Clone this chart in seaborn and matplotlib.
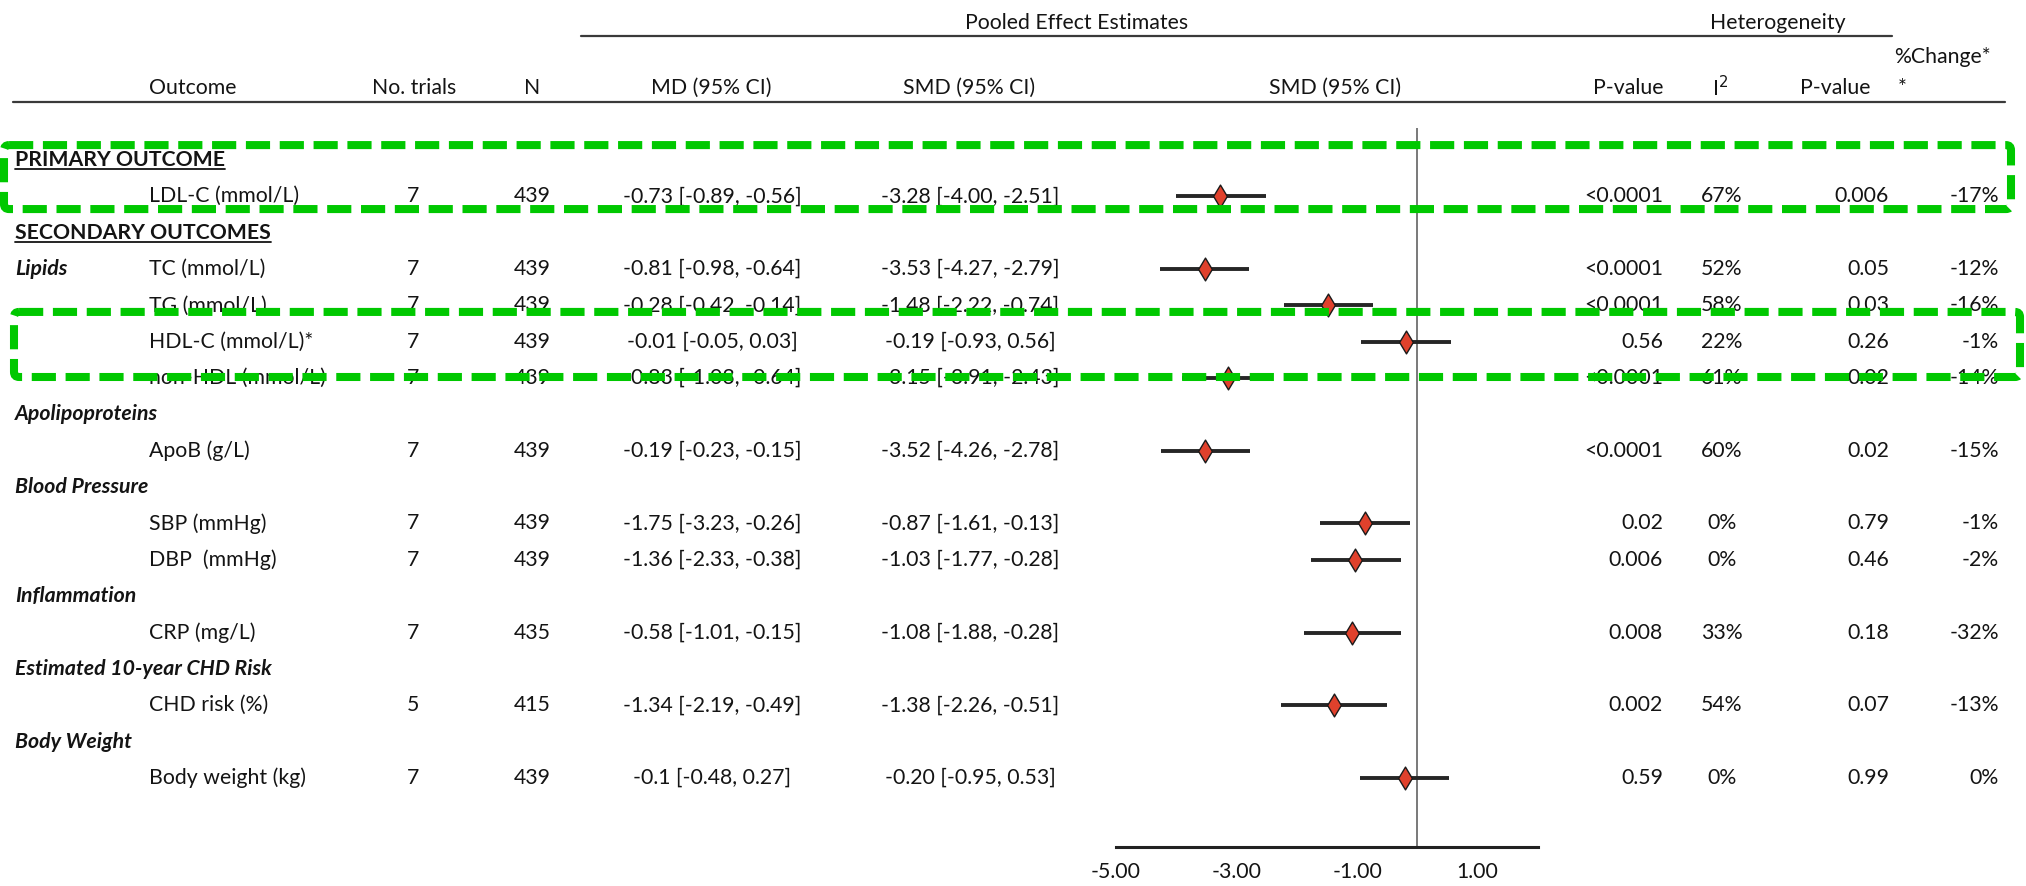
import matplotlib
matplotlib.use("Agg")
import matplotlib.pyplot as plt
import matplotlib.transforms as mtransforms
from matplotlib.patches import FancyBboxPatch
from matplotlib.lines import Line2D
import seaborn as sns
import pandas as pd

outcomes = ["LDL-C (mmol/L)", "TC (mmol/L)", "TG (mmol/L)", "HDL-C (mmol/L)*", "non-HDL (mmol/L)",
            "ApoB (g/L)", "SBP (mmHg)", "DBP  (mmHg)", "CRP (mg/L)", "CHD risk (%)", "Body weight (kg)"]
n_trials = [7, 7, 7, 7, 7, 7, 7, 7, 7, 5, 7]
n_total = [439, 439, 439, 439, 439, 439, 439, 439, 435, 415, 439]
md_ci = ["-0.73 [-0.89, -0.56]", "-0.81 [-0.98, -0.64]", "-0.28 [-0.42, -0.14]", "-0.01 [-0.05, 0.03]",
         "-0.83 [-1.03, -0.64]", "-0.19 [-0.23, -0.15]", "-1.75 [-3.23, -0.26]", "-1.36 [-2.33, -0.38]",
         "-0.58 [-1.01, -0.15]", "-1.34 [-2.19, -0.49]", "-0.1 [-0.48, 0.27]"]
smd = [-3.28, -3.53, -1.48, -0.19, -3.15, -3.52, -0.87, -1.03, -1.08, -1.38, -0.20]
smd_lo = [-4.00, -4.27, -2.22, -0.93, -3.91, -4.26, -1.61, -1.77, -1.88, -2.26, -0.95]
smd_hi = [-2.51, -2.79, -0.74, 0.56, -2.43, -2.78, -0.13, -0.28, -0.28, -0.51, 0.53]
p_effect = ["<0.0001", "<0.0001", "<0.0001", "0.56", "<0.0001", "<0.0001", "0.02", "0.006", "0.008", "0.002", "0.59"]
i2 = [67, 52, 58, 22, 61, 60, 0, 0, 33, 54, 0]
p_het = ["0.006", "0.05", "0.03", "0.26", "0.02", "0.02", "0.79", "0.46", "0.18", "0.07", "0.99"]
pct_change = [-17, -12, -16, -1, -14, -15, -1, -2, -32, -13, 0]
x_ticks = [-5, -3, -1, 1]

# table rows top to bottom
layout = [
    ("section", "PRIMARY OUTCOME"),
    ("outcome", 0),
    ("section", "SECONDARY OUTCOMES"),
    ("outcome", 1, "Lipids"),
    ("outcome", 2),
    ("outcome", 3),
    ("outcome", 4),
    ("group", "Apolipoproteins"),
    ("outcome", 5),
    ("group", "Blood Pressure"),
    ("outcome", 6),
    ("outcome", 7),
    ("group", "Inflammation"),
    ("outcome", 8),
    ("group", "Estimated 10-year CHD Risk"),
    ("outcome", 9),
    ("group", "Body Weight"),
    ("outcome", 10),
]

rows = {}
for r, item in enumerate(layout):
    if item[0] == "outcome":
        rows[item[1]] = r

df = pd.DataFrame({"outcome": outcomes, "smd": smd, "lo": smd_lo, "hi": smd_hi})
df["row"] = [rows[i] for i in range(len(outcomes))]

sns.set_theme(style="white")
plt.rcParams["font.family"] = ["Lato", "DejaVu Sans"]

W, H = 2026, 886
FS = 15.3
TXT = "#141414"
fig = plt.figure(figsize=(W / 100, H / 100), dpi=100)
ax = fig.add_axes([1116 / W, 1 - 847 / H, 422 / W, (847 - 128) / H])
ax.patch.set_alpha(0)

# forest plot
ax.axvline(0, color="#555555", lw=1.1, zorder=1)
ax.hlines(df["row"], df["lo"], df["hi"], color="#262626", lw=2.8, zorder=3)
sns.scatterplot(data=df, x="smd", y="row", marker="d", s=135, color="#e0412c",
                edgecolor="#1a1a1a", linewidth=1.0, ax=ax, zorder=4, legend=False)
ax.set_xlabel("")
ax.set_ylabel("")
ax.set_xlim(-5, 2)
ax.set_ylim(18.9, -0.88)
ax.set_yticks([])
ax.set_xticks(x_ticks)
ax.set_xticklabels([f"{t:.2f}" for t in x_ticks])
ax.tick_params(axis="x", length=0, pad=11, labelsize=FS, colors=TXT)
for s in ["left", "top", "right"]:
    ax.spines[s].set_visible(False)
ax.spines["bottom"].set_color("#222222")
ax.spines["bottom"].set_linewidth(2.2)

# text table, x in figure pixels, y in rows
tr = mtransforms.blended_transform_factory(fig.transFigure, ax.transData)


def put(x, y, s, ha="center", **kw):
    return ax.text(x / W, y, s, transform=tr, ha=ha, va="center", fontsize=FS,
                   color=TXT, clip_on=False, **kw)


sections = []
for r, item in enumerate(layout):
    if item[0] == "section":
        sections.append(put(15, r, item[1], ha="left", fontweight="bold"))
    elif item[0] == "group":
        put(15, r, item[1], ha="left", fontweight="bold", fontstyle="italic")
    else:
        i = item[1]
        if len(item) > 2:
            put(15, r, item[2], ha="left", fontweight="bold", fontstyle="italic")
        put(149, r, outcomes[i], ha="left")
        put(413, r, str(n_trials[i]))
        put(532, r, str(n_total[i]))
        put(712, r, md_ci[i])
        put(970, r, f"{smd[i]:.2f} [{smd_lo[i]:.2f}, {smd_hi[i]:.2f}]")
        put(1663, r, p_effect[i], ha="right")
        put(1722, r, f"{i2[i]}%")
        put(1889, r, p_het[i], ha="right")
        put(1999, r, f"{pct_change[i]}%", ha="right")

# headers
put(1077, -3.77, "Pooled Effect Estimates")
put(1778, -3.77, "Heterogeneity")
put(1894, -2.83, "%Change*", ha="left")
put(1898, -1.98, "*", ha="left")
hdr_y = -1.98
put(149, hdr_y, "Outcome", ha="left")
put(414, hdr_y, "No. trials")
put(532, hdr_y, "N")
put(711, hdr_y, "MD (95% CI)")
put(969, hdr_y, "SMD (95% CI)")
put(1335, hdr_y, "SMD (95% CI)")
put(1663, hdr_y, "P-value", ha="right")
put(1720, hdr_y, "I$^{2}$")
put(1835, hdr_y, "P-value")

ax.plot([581 / W, 1892 / W], [-3.41, -3.41], transform=tr, color="#3a3a3a", lw=1.6, clip_on=False)
ax.plot([13 / W, 2005 / W], [-1.60, -1.60], transform=tr, color="#3a3a3a", lw=1.6, clip_on=False)

# underline the section titles
fig.canvas.draw()
renderer = fig.canvas.get_renderer()
inv = fig.transFigure.inverted()
for t in sections:
    bb = t.get_window_extent(renderer)
    (x0, y0), (x1, _) = inv.transform([(bb.x0, bb.y0 + 1), (bb.x1, bb.y0 + 1)])
    fig.add_artist(Line2D([x0, x1], [y0, y0], transform=fig.transFigure, color=TXT, lw=1.3))

# green dashed highlight boxes
aspect = (1 / 36.35) / (1 / W)
for x0, x1, ya, yb in [(4, 2011, -0.41, 1.35), (14, 2020, 4.18, 5.97)]:
    box = FancyBboxPatch((x0 / W, ya), (x1 - x0) / W, yb - ya, transform=tr,
                         boxstyle="round,pad=0,rounding_size=0.0025", mutation_aspect=aspect,
                         fill=False, edgecolor="#00c800", lw=5.8, linestyle=(0, (3.0, 1.2)),
                         clip_on=False, zorder=10)
    ax.add_patch(box)

fig.savefig("out.png", dpi=100)
